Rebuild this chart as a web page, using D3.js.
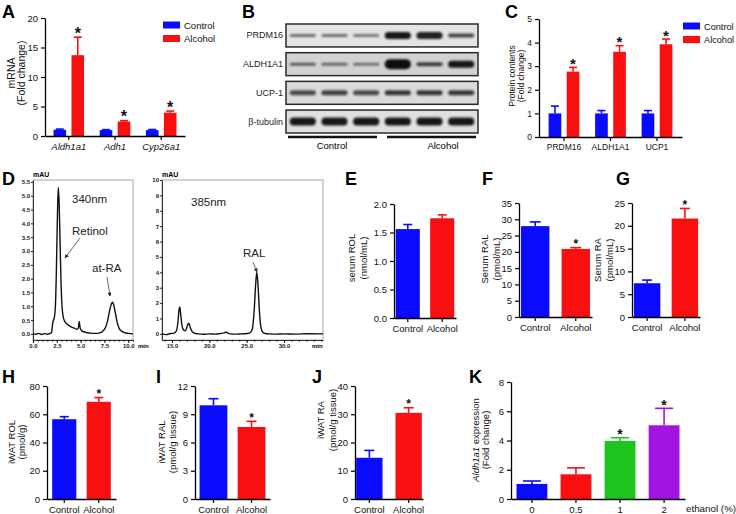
<!DOCTYPE html>
<html><head><meta charset="utf-8">
<script src="https://cdn.jsdelivr.net/npm/d3@7"></script>
<style>body{margin:0;background:#fff} text{font-family:"Liberation Sans",Arial,sans-serif}</style>
</head><body><svg id="c" width="736" height="514"></svg>
<script>
// ---------------- DATA ----------------
const groups = ["Control", "Alcohol"];
// Panel A
const aCategories = ["Aldh1a1", "Adh1", "Cyp26a1"];
const aControl = [1.05, 1.0, 1.0];
const aControlErr = [0.12, 0.08, 0.1];
const aAlcohol = [13.7, 2.45, 3.95];
const aAlcoholErr = [3.05, 0.15, 0.28];
const aStars = [true, true, true];
const aTicks = [0, 5, 10, 15, 20];
// Panel B (western blot band densities, 0-1)
const bRows = ["PRDM16", "ALDH1A1", "UCP-1", "β-tubulin"];
const bLanes = ["C1", "C2", "C3", "A1", "A2", "A3"];
const bDensity = [
  [0.55, 0.55, 0.5, 0.95, 0.9, 0.75],
  [0.6, 0.55, 0.5, 1.0, 0.75, 0.95],
  [0.7, 0.75, 0.7, 0.8, 0.8, 0.8],
  [0.95, 0.95, 0.95, 0.95, 0.95, 0.95]
];
const bBandHeight = [
  [3, 3, 3, 7, 7, 4],
  [3, 3, 3, 10, 4, 7],
  [5, 5, 5, 5, 5, 5],
  [8, 8, 8, 8, 8, 8]
];
// Panel C
const cCategories = ["PRDM16", "ALDH1A1", "UCP1"];
const cControl = [1.0, 1.0, 1.0];
const cControlErr = [0.31, 0.12, 0.12];
const cAlcohol = [2.77, 3.61, 3.93];
const cAlcoholErr = [0.18, 0.26, 0.22];
const cStars = [true, true, true];
const cTicks = [0, 1, 2, 3, 4, 5];
// Panel D (HPLC traces: [time (min), mAU])
const d340Trace = [[0,0.01],[0.3,-0.01],[0.6,0.02],[0.9,-0.02],[1.2,0.01],[1.5,-0.01],[1.8,0.02],[1.95,0.05],[2.05,0.35],[2.15,0.5],[2.25,0.62],[2.35,1.0],[2.45,2.2],[2.55,4.0],[2.65,5.3],[2.75,4.7],[2.85,3.2],[2.95,1.8],[3.05,1.0],[3.15,0.65],[3.3,0.48],[3.5,0.38],[3.8,0.3],[4.1,0.24],[4.4,0.2],[4.6,0.17],[4.75,0.2],[4.85,0.45],[4.95,0.22],[5.1,0.12],[5.5,0.06],[6.0,0.03],[6.5,0.02],[7.0,0.04],[7.3,0.09],[7.6,0.22],[7.85,0.5],[8.05,0.85],[8.25,1.1],[8.35,1.15],[8.45,1.08],[8.65,0.75],[8.85,0.4],[9.05,0.2],[9.3,0.1],[9.6,0.05],[10.0,0.02],[10.5,0.0]];
const d385Trace = [[13.66,0.0],[14.2,-0.05],[14.8,0.02],[15.3,0.05],[15.6,0.2],[15.8,0.8],[15.95,1.6],[16.05,1.75],[16.2,1.1],[16.35,0.5],[16.55,0.25],[16.75,0.2],[16.95,0.35],[17.1,0.6],[17.25,0.7],[17.45,0.4],[17.7,0.15],[18.0,0.05],[18.5,0.0],[19.2,-0.03],[20,0.0],[20.8,-0.02],[21.5,0.02],[22.0,0.06],[22.2,0.12],[22.45,0.05],[22.8,0.0],[23.5,-0.02],[24.3,0.0],[25.0,0.02],[25.4,0.05],[25.75,0.3],[26.0,1.5],[26.2,3.2],[26.35,4.0],[26.5,3.3],[26.7,1.5],[26.9,0.45],[27.15,0.1],[27.5,0.02],[28,0.0],[29,-0.02],[30,0.0],[31.5,-0.02],[33,0.01],[35.22,0.0]];
const d340YTicks = [0,0.5,1,1.5,2,2.5,3,3.5,4,4.5,5,5.5];
const d340XTicks = [0, 2.5, 5, 7.5, 10];
const d385YTicks = [0,1,2,3,4,5,6,7,8,9,10];
const d385XTicks = [15, 20, 25, 30];
// Panel E
const eValues = [1.56, 1.75]; const eErr = [0.08, 0.06]; const eStars = [false, false];
const eTicks = [0, 0.5, 1.0, 1.5, 2.0];
// Panel F
const fValues = [27.9, 20.9]; const fErr = [1.3, 0.4]; const fStars = [false, true];
const fTicks = [0, 5, 10, 15, 20, 25, 30, 35];
// Panel G
const gValues = [7.4, 21.6]; const gErr = [0.7, 2.2]; const gStars = [false, true];
const gTicks = [0, 5, 10, 15, 20, 25];
// Panel H
const hValues = [56.5, 68.8]; const hErr = [1.8, 3.0]; const hStars = [false, true];
const hTicks = [0, 20, 40, 60, 80];
// Panel I
const iValues = [9.95, 7.65]; const iErr = [0.7, 0.6]; const iStars = [false, true];
const iTicks = [0, 3, 6, 9, 12];
// Panel J
const jValues = [14.6, 30.5]; const jErr = [2.6, 1.8]; const jStars = [false, true];
const jTicks = [0, 10, 20, 30, 40];
// Panel K
const kCategories = ["0", "0.5", "1", "2"];
const kValues = [1.03, 1.69, 3.97, 5.04]; const kErr = [0.2, 0.44, 0.22, 1.16];
const kStars = [false, false, true, true];
const kTicks = [0, 2, 4, 6, 8];

const BLUE = "#0a0aff", RED = "#f81010", GREEN = "#1ec41e", PURPLE = "#a414e0";

// ---------------- DRAW ----------------
const svg = d3.select("#c");
svg.append("rect").attr("width", 736).attr("height", 514).attr("fill", "#fff");

function letter(t, x, y) {
  svg.append("text").attr("x", x).attr("y", y).text(t)
    .attr("font-size", 18).attr("font-weight", "bold").attr("fill", "#000");
}

function ylabel(lines, xs, cy, fs) {
  lines.forEach((ln, i) => {
    const t = svg.append("text").attr("transform", `translate(${xs[i]},${cy}) rotate(-90)`)
      .attr("text-anchor", "middle").attr("font-size", fs).attr("fill", "#111");
    if (Array.isArray(ln)) {
      ln.forEach(p => t.append("tspan").text(p.t).attr("font-style", p.it ? "italic" : "normal"));
    } else t.text(ln);
  });
}

function barPanel(o) {
  const g = svg.append("g");
  const x0 = d3.scaleBand().domain(o.cats).range(o.xr).paddingInner(o.pi).paddingOuter(o.po);
  const y = d3.scaleLinear().domain(o.yd).range(o.yr);
  const nS = o.series.length;
  const x1 = d3.scaleBand().domain(d3.range(nS)).range([0, x0.bandwidth()])
    .paddingInner(o.pi1 || 0).paddingOuter(o.po1 || 0);
  o.series.forEach((s, si) => {
    o.cats.forEach((c, ci) => {
      const v = s.values[ci], e = s.errs[ci];
      const col = s.colors ? s.colors[ci] : s.color;
      const bx = x0(c) + x1(si), bw = x1.bandwidth();
      const cx = bx + bw / 2;
      g.append("line").attr("x1", cx).attr("x2", cx).attr("y1", y(v)).attr("y2", y(v + e))
        .attr("stroke", col).attr("stroke-width", 1.6);
      g.append("line").attr("x1", cx - o.cap / 2).attr("x2", cx + o.cap / 2)
        .attr("y1", y(v + e)).attr("y2", y(v + e)).attr("stroke", col).attr("stroke-width", 1.6);
      g.append("rect").attr("x", bx).attr("y", y(v)).attr("width", bw).attr("height", y(0) - y(v))
        .attr("fill", col);
      if (s.stars && s.stars[ci]) {
        g.append("text").attr("x", cx).attr("y", y(v + e) - 3 + o.starSize * 0.3)
          .attr("text-anchor", "middle").attr("font-size", o.starSize).attr("font-weight", "bold")
          .text("*").attr("fill", "#111");
      }
    });
  });
  const ya = g.append("g").attr("transform", `translate(${o.xr[0]},0)`)
    .call(d3.axisLeft(y).tickValues(o.ticks).tickFormat(o.fmt || d3.format("d")).tickSize(4).tickSizeOuter(0));
  const xa = g.append("g").attr("transform", `translate(0,${o.yr[0]})`)
    .call(d3.axisBottom(x0).tickSize(4).tickSizeOuter(0));
  [ya, xa].forEach(a => {
    a.select(".domain").attr("stroke", "#000").attr("stroke-width", 1.3);
    a.selectAll(".tick line").attr("stroke", "#000").attr("stroke-width", 1.2);
    a.selectAll("text").attr("font-size", o.fs).attr("fill", "#111")
      .attr("font-family", '"Liberation Sans",Arial,sans-serif');
  });
  if (o.italicX) xa.selectAll("text").attr("font-style", "italic");
  if (o.xfs) xa.selectAll("text").attr("font-size", o.xfs);
  return { g, x0, y };
}

function legend(x, y0, fs) {
  groups.forEach((gname, i) => {
    const yy = y0 + i * 13.5;
    svg.append("rect").attr("x", x).attr("y", yy).attr("width", 17).attr("height", 7)
      .attr("fill", i === 0 ? BLUE : RED);
    svg.append("text").attr("x", x + 21).attr("y", yy + 7).attr("font-size", fs).text(gname).attr("fill", "#111");
  });
}

// ---- A ----
letter("A", 2, 18);
barPanel({ cats: aCategories, xr: [45, 185], pi: 0.3, po: 0.165, pi1: 0.3, po1: 0.05,
  yd: [0, 20], yr: [136, 18], ticks: aTicks, fs: 9.5, xfs: 9.5, italicX: true, cap: 8, starSize: 16,
  series: [{ values: aControl, errs: aControlErr, color: BLUE },
           { values: aAlcohol, errs: aAlcoholErr, color: RED, stars: aStars }] });
ylabel(["mRNA", "(Fold change)"], [15, 25], 73, 10.5);
legend(163, 21.5, 9.5);

// ---- B ----
letter("B", 242, 18);
(function () {
  const defs = svg.append("defs");
  defs.append("filter").attr("id", "blur").attr("x", "-30%").attr("y", "-100%").attr("width", "160%").attr("height", "300%")
    .append("feGaussianBlur").attr("stdDeviation", 1.1);
  const rowS = d3.scaleBand().domain(bRows).range([24, 133]).paddingInner(0.2);
  const laneS = d3.scaleBand().domain(bLanes).range([287, 477]).paddingInner(0.3).paddingOuter(0.15);
  const bg = ["#e4e4e4", "#d2d2d2", "#dadada", "#e0e0e0"];
  bRows.forEach((r, ri) => {
    const y0 = rowS(r), h = rowS.bandwidth();
    svg.append("rect").attr("x", 286).attr("y", y0).attr("width", 192).attr("height", h)
      .attr("fill", bg[ri]).attr("stroke", "#2a2a2a").attr("stroke-width", 1.5);
    svg.append("text").attr("x", 283).attr("y", y0 + h / 2 + 3).attr("text-anchor", "end")
      .attr("font-size", 9).attr("font-family", '"Open Sans",sans-serif').text(r).attr("fill", "#222");
    bLanes.forEach((l, li) => {
      const bh = bBandHeight[ri][li];
      svg.append("rect").attr("x", laneS(l) - 2).attr("y", y0 + h / 2 - bh / 2)
        .attr("width", laneS.bandwidth() + 4).attr("height", bh).attr("rx", bh / 2)
        .attr("fill", "#111").attr("opacity", bDensity[ri][li]).attr("filter", "url(#blur)");
    });
  });
  svg.append("line").attr("x1", 288).attr("x2", 377).attr("y1", 137).attr("y2", 137).attr("stroke", "#111").attr("stroke-width", 2.5);
  svg.append("line").attr("x1", 387).attr("x2", 476).attr("y1", 137).attr("y2", 137).attr("stroke", "#111").attr("stroke-width", 2.5);
  svg.append("text").attr("x", 332).attr("y", 149).attr("text-anchor", "middle").attr("font-size", 9.5)
    .attr("font-family", '"Open Sans",sans-serif').text(groups[0]);
  svg.append("text").attr("x", 443).attr("y", 149).attr("text-anchor", "middle").attr("font-size", 9.5)
    .attr("font-family", '"Open Sans",sans-serif').text(groups[1]);
})();

// ---- C ----
letter("C", 505, 18);
barPanel({ cats: cCategories, xr: [539, 682], pi: 0.3, po: 0.1875, pi1: 0.3, po1: 0.05,
  yd: [0, 5], yr: [137, 19], ticks: cTicks, fs: 8.5, cap: 8, starSize: 15,
  series: [{ values: cControl, errs: cControlErr, color: BLUE },
           { values: cAlcohol, errs: cAlcoholErr, color: RED, stars: cStars }] });
ylabel(["Protein contents", "(Fold change)"], [515, 524], 76, 8.5);
legend(683, 22.5, 9.2);

// ---- D ----
letter("D", 2, 185);
function chrom(o) {
  const x = d3.scaleLinear().domain(o.xd).range(o.xr);
  const y = d3.scaleLinear().domain(o.yd).range([340, 180]);
  svg.append("rect").attr("x", o.xr[0]).attr("y", 180).attr("width", o.xr[1] - o.xr[0]).attr("height", 160)
    .attr("fill", "none").attr("stroke", "#a8a8a8").attr("stroke-width", 1);
  const ya = svg.append("g").attr("transform", `translate(${o.xr[0]},0)`)
    .call(d3.axisLeft(y).tickValues(o.yt).tickFormat(o.yfmt).tickSize(2).tickSizeOuter(0));
  const xa = svg.append("g").attr("transform", `translate(0,340)`)
    .call(d3.axisBottom(x).tickValues(o.xt).tickFormat(d3.format(".1f")).tickSize(3).tickSizeOuter(0));
  svg.append("g").attr("transform", `translate(0,340)`)
    .call(d3.axisBottom(x).tickValues(o.minor).tickFormat("").tickSize(1.5).tickSizeOuter(0))
    .select(".domain").remove();
  [ya, xa].forEach(a => {
    a.select(".domain").attr("stroke", "#222").attr("stroke-width", 0.9);
    a.selectAll(".tick line").attr("stroke", "#222");
    a.selectAll("text").attr("font-size", 6).attr("font-weight", "bold").attr("fill", "#222")
      .attr("font-family", '"Liberation Sans",Arial,sans-serif');
  });
  ya.selectAll("text").attr("x", -3);
  xa.selectAll("text").attr("y", 4);
  svg.append("path").datum(o.data)
    .attr("d", d3.line().x(d => x(d[0])).y(d => y(d[1])).curve(d3.curveMonotoneX))
    .attr("fill", "none").attr("stroke", "#111").attr("stroke-width", 1.4);
  svg.append("text").attr("x", o.xr[0]).attr("y", 177).attr("font-size", 7).attr("font-weight", "bold").text("mAU");
  svg.append("text").attr("x", o.minX).attr("y", 348).attr("font-size", 6).attr("font-weight", "bold").text("min");
  return { x, y };
}
chrom({ xd: [0, 10.5], xr: [33, 133], yd: [-0.22, 5.57], yt: d340YTicks, yfmt: d3.format(".1f"),
  xt: d340XTicks, minor: d3.range(0, 10.51, 0.5), data: d340Trace, minX: 138 });
chrom({ xd: [13.66, 35.22], xr: [162, 323], yd: [-0.4, 10], yt: d385YTicks, yfmt: d3.format("d"),
  xt: d385XTicks, minor: d3.range(14, 35.1, 1), data: d385Trace, minX: 312 });
svg.append("defs").append("marker").attr("id", "arr").attr("viewBox", "0 0 10 10").attr("refX", 9).attr("refY", 5)
  .attr("markerWidth", 5).attr("markerHeight", 5).attr("orient", "auto")
  .append("path").attr("d", "M0,0 L10,5 L0,10 z").attr("fill", "#222");
function annot(t, tx, ty, x1, y1, x2, y2) {
  svg.append("text").attr("x", tx).attr("y", ty).attr("font-size", 11.5)
    .attr("font-family", '"Open Sans",sans-serif').text(t).attr("fill", "#222");
  if (x1 != null) svg.append("line").attr("x1", x1).attr("y1", y1).attr("x2", x2).attr("y2", y2)
    .attr("stroke", "#444").attr("stroke-width", 0.8).attr("marker-end", "url(#arr)");
}
annot("340nm", 72, 203);
annot("Retinol", 72, 235, 80, 238, 65, 258);
annot("at-RA", 92, 272, 107, 277, 110, 296);
annot("385nm", 191, 206);
annot("RAL", 243, 257, 253, 262, 257, 272);

// ---- E ----
letter("E", 345, 185);
barPanel({ cats: groups, xr: [394, 456], pi: 0.3, po: 0.05, yd: [0, 2], yr: [318, 204],
  ticks: eTicks, fmt: d3.format(".1f"), fs: 9.5, cap: 9, starSize: 12,
  series: [{ values: eValues, errs: eErr, colors: [BLUE, RED], stars: eStars }] });
ylabel(["serum ROL", "(nmol/mL)"], [354.5, 367], 258, 9.5);

// ---- F ----
letter("F", 482, 185);
barPanel({ cats: groups, xr: [519, 592], pi: 0.3, po: 0.05, yd: [0, 35], yr: [317, 203],
  ticks: fTicks, fs: 9.5, cap: 11, starSize: 12,
  series: [{ values: fValues, errs: fErr, colors: [BLUE, RED], stars: fStars }] });
ylabel(["Serum RAL", "(pmol/mL)"], [487.5, 499.5], 259, 9.5);

// ---- G ----
letter("G", 616, 185);
barPanel({ cats: groups, xr: [632, 700], pi: 0.3, po: 0.05, yd: [0, 25], yr: [317, 203],
  ticks: gTicks, fs: 9.5, cap: 10, starSize: 12,
  series: [{ values: gValues, errs: gErr, colors: [BLUE, RED], stars: gStars }] });
ylabel(["Serum RA", "(pmol/mL)"], [601, 613], 260, 9.5);

// ---- H ----
letter("H", 2, 383);
barPanel({ cats: groups, xr: [47, 116], pi: 0.3, po: 0.15, yd: [0, 80], yr: [499, 386],
  ticks: hTicks, fs: 9.5, cap: 9, starSize: 12,
  series: [{ values: hValues, errs: hErr, colors: [BLUE, RED], stars: hStars }] });
ylabel(["iWAT ROL", "(pmol/g)"], [15, 25], 442, 9.5);

// ---- I ----
letter("I", 156, 383);
barPanel({ cats: groups, xr: [195, 270], pi: 0.27, po: 0.12, yd: [0, 12], yr: [499, 386],
  ticks: iTicks, fs: 9.5, cap: 10, starSize: 12,
  series: [{ values: iValues, errs: iErr, colors: [BLUE, RED], stars: iStars }] });
ylabel(["iWAT RAL", "(pmol/g tissue)"], [164.5, 176], 442, 9.5);

// ---- J ----
letter("J", 312, 383);
barPanel({ cats: groups, xr: [355, 423], pi: 0.33, po: 0.03, yd: [0, 40], yr: [499, 386],
  ticks: jTicks, fs: 9.5, cap: 10, starSize: 12,
  series: [{ values: jValues, errs: jErr, colors: [BLUE, RED], stars: jStars }] });
ylabel(["iWAT RA", "(pmol/g tissue)"], [324, 336], 420, 9.5);

// ---- K ----
letter("K", 469, 383);
barPanel({ cats: kCategories, xr: [511, 685], pi: 0.3, po: 0.125, yd: [0, 8], yr: [499, 382],
  ticks: kTicks, fs: 9.5, cap: 18, starSize: 14,
  series: [{ values: kValues, errs: kErr, colors: [BLUE, RED, GREEN, PURPLE], stars: kStars }] });
ylabel([[{ t: "Aldh1a1", it: true }, { t: " expression" }], "(Fold change)"], [478.5, 488.5], 440, 9.5);
svg.append("text").attr("x", 686).attr("y", 512).attr("font-size", 9.8).text("ethanol (%)").attr("fill", "#111");
</script></body></html>
